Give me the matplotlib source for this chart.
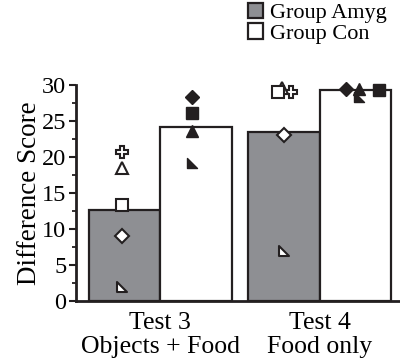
import matplotlib
matplotlib.use("Agg")
import matplotlib.pyplot as plt
from matplotlib.patches import Patch
from matplotlib.path import Path
from matplotlib.ticker import MultipleLocator

plt.rcParams["font.family"] = ["Liberation Serif", "DejaVu Serif"]

# ── data ──────────────────────────────────────────────────────────────────────
tests      = ["Test 3\nObjects + Food", "Test 4\nFood only"]
groups     = ["Group Amyg", "Group Con"]
amyg_means = [12.6, 23.5]
con_means  = [24.2, 29.3]

# individual animals: marker shape, Amyg scores (T3, T4), Con scores (T3, T4)
subjects   = ["plus", "tri", "square", "diamond", "rtri"]
amyg_t3    = [20.7, 18.5, 13.3, 9.0, 2.0]
amyg_t4    = [29.0, 29.6, 29.0, 23.1, 7.0]
con_t3     = [None, 23.6, 26.1, 28.3, 19.2]
con_t4     = [None, 29.4, 29.3, 29.4, 28.3]
# small horizontal jitter (in bar widths) used in the original figure
amyg_t4_dx = [0.10, -0.03, -0.09, 0.0, 0.0]
con_t4_dx  = [0.0, 0.04, 0.32, -0.13, 0.05]

GRAY = "#8e8f93"
INK = "#231f20"

rtri = Path([(-1, 1), (-1, -1), (1, -1), (-1, 1)],
            [Path.MOVETO, Path.LINETO, Path.LINETO, Path.CLOSEPOLY])
MARKERS = {"plus": ("P", 8), "tri": ("^", 8), "square": ("s", 8),
           "diamond": ("D", 7), "rtri": (rtri, 7.5)}

fig = plt.figure(figsize=(4.0, 3.6), dpi=100)
ax = fig.add_axes([0.19, 0.164, 0.81, 0.6])

width = 1.0
centers = [1.175, 3.41]
for i, c in enumerate(centers):
    ax.bar(c - width / 2, amyg_means[i], width, color=GRAY,
           edgecolor=INK, linewidth=1.6, zorder=2)
    ax.bar(c + width / 2, con_means[i], width, color="white",
           edgecolor=INK, linewidth=1.6, zorder=2)

for k, name in enumerate(subjects):
    m, ms = MARKERS[name]
    xa = centers[0] - width / 2 - 0.03
    ax.plot(xa, amyg_t3[k], marker=m, ms=ms, mfc="white", mec=INK,
            mew=1.5, ls="none", zorder=4, clip_on=False)
    xa = centers[1] - width / 2 + amyg_t4_dx[k]
    ax.plot(xa, amyg_t4[k], marker=m, ms=ms, mfc="white", mec=INK,
            mew=1.5, ls="none", zorder=4, clip_on=False)
    if con_t3[k] is not None:
        xc = centers[0] + width / 2 - 0.05
        ax.plot(xc, con_t3[k], marker=m, ms=ms, color=INK,
                ls="none", zorder=4, clip_on=False)
        xc = centers[1] + width / 2 + con_t4_dx[k]
        ax.plot(xc, con_t4[k], marker=m, ms=ms, color=INK,
                ls="none", zorder=4, clip_on=False)

ax.set_xlim(0, 4.53)
ax.set_ylim(0, 30)
ax.set_xticks(centers)
ax.set_xticklabels(tests, fontsize=18.5, linespacing=1.1)
ax.tick_params(axis="x", length=0, pad=8)
ax.yaxis.set_major_locator(MultipleLocator(5))
ax.yaxis.set_minor_locator(MultipleLocator(2.5))
ax.tick_params(axis="y", which="major", length=5, width=1.5, labelsize=17.5,
               pad=2, color=INK)
ax.tick_params(axis="y", which="minor", length=3, width=1.3, color=INK)
ax.set_ylabel("Difference Score", fontsize=19.5, labelpad=0)

for side in ("top", "right"):
    ax.spines[side].set_visible(False)
for side in ("left", "bottom"):
    ax.spines[side].set_linewidth(2)
    ax.spines[side].set_color(INK)

handles = [Patch(facecolor=GRAY, edgecolor=INK, linewidth=1.6),
           Patch(facecolor="white", edgecolor=INK, linewidth=1.6)]
fig.legend(handles, groups, loc="upper right", bbox_to_anchor=(1.0, 1.03),
           frameon=False, fontsize=16, handlelength=0.7, handleheight=0.7,
           handletextpad=0.3, labelspacing=0.0, borderaxespad=0.2)

fig.savefig("out.png", dpi=100)
